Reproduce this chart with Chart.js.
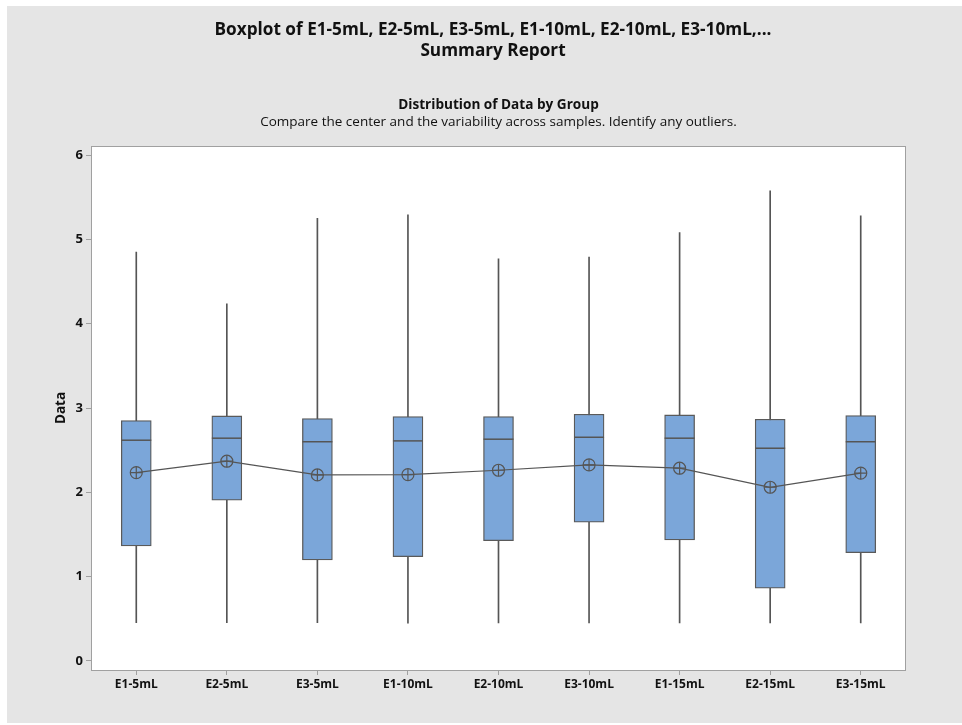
<!DOCTYPE html>
<html>
<head>
<meta charset="utf-8">
<script src="https://cdn.jsdelivr.net/npm/chart.js@4.4.0/dist/chart.umd.min.js"></script>
<style>
  html, body { margin: 0; padding: 0; background: #fff; }
</style>
</head>
<body>
<canvas id="boxChart" width="962" height="725"></canvas>
<script>
// Boxplot summary values per group
const groups = ['E1-5mL', 'E2-5mL', 'E3-5mL', 'E1-10mL', 'E2-10mL', 'E3-10mL', 'E1-15mL', 'E2-15mL', 'E3-15mL'];
const whiskerLow = [0.455, 0.455, 0.455, 0.447, 0.45, 0.45, 0.45, 0.45, 0.45];
const q1 = [1.364, 1.906, 1.198, 1.237, 1.427, 1.645, 1.435, 0.862, 1.285];
const median = [2.618, 2.642, 2.60, 2.61, 2.63, 2.653, 2.642, 2.523, 2.60];
const q3 = [2.85, 2.906, 2.874, 2.898, 2.898, 2.926, 2.918, 2.867, 2.91];
const whiskerHigh = [4.848, 4.235, 5.25, 5.29, 4.77, 4.79, 5.08, 5.575, 5.279];
const means = [2.234, 2.369, 2.206, 2.21, 2.262, 2.325, 2.286, 2.06, 2.227];
const yTicks = [0, 1, 2, 3, 4, 5, 6];

const FONT = "'Open Sans', 'Noto Sans', sans-serif";
const LINE = '#555555';
const FRAME = '#a0a0a0';

// Gray panel, white plot area, frame, median lines and heading texts
const reportPlugin = {
    id: 'report',
    beforeDraw(chart) {
        const { ctx, chartArea: a } = chart;
        ctx.save();
        ctx.fillStyle = '#e5e5e5';
        ctx.fillRect(7, 6, 955, 717);
        ctx.fillStyle = '#ffffff';
        ctx.fillRect(a.left, a.top, a.right - a.left, a.bottom - a.top);
        ctx.restore();
    },
    afterDatasetsDraw(chart) {
        const { ctx, scales } = chart;
        const meta = chart.getDatasetMeta(1);
        ctx.save();
        ctx.strokeStyle = LINE;
        ctx.lineWidth = 1.5;
        meta.data.forEach((bar, i) => {
            const y = scales.y.getPixelForValue(median[i]);
            const half = bar.width / 2;
            ctx.beginPath();
            ctx.moveTo(bar.x - half, y);
            ctx.lineTo(bar.x + half, y);
            ctx.stroke();
        });
        ctx.restore();
    },
    afterDraw(chart) {
        const { ctx, chartArea: a } = chart;
        ctx.save();
        ctx.strokeStyle = FRAME;
        ctx.lineWidth = 1;
        ctx.strokeRect(a.left + 0.5, a.top + 0.5, a.right - a.left - 1, a.bottom - a.top);

        ctx.fillStyle = '#111';
        ctx.textAlign = 'center';
        ctx.textBaseline = 'middle';
        ctx.font = 'bold 17.2px ' + FONT;
        ctx.fillText('Boxplot of E1-5mL, E2-5mL, E3-5mL, E1-10mL, E2-10mL, E3-10mL,...', 493, 30);
        ctx.fillText('Summary Report', 493, 51);

        const cx = (a.left + a.right) / 2;
        ctx.font = 'bold 13.6px ' + FONT;
        ctx.fillText('Distribution of Data by Group', cx, 105);
        ctx.font = '13.5px ' + FONT;
        ctx.fillText('Compare the center and the variability across samples. Identify any outliers.', cx, 122);

        ctx.font = 'bold 13.5px ' + FONT;
        ctx.translate(61, (a.top + a.bottom) / 2);
        ctx.rotate(-Math.PI / 2);
        ctx.fillText('Data', 0, 0);
        ctx.restore();
    }
};

function initBoxChart() {
    const ctx = document.getElementById('boxChart');

    new Chart(ctx, {
        type: 'bar',
        data: {
            labels: groups,
            datasets: [
                {
                    // whiskers
                    type: 'bar',
                    data: groups.map((g, i) => [whiskerLow[i], whiskerHigh[i]]),
                    backgroundColor: LINE,
                    borderWidth: 0,
                    barThickness: 1,
                    grouped: false,
                    order: 4
                },
                {
                    // interquartile boxes
                    type: 'bar',
                    data: groups.map((g, i) => [q1[i], q3[i]]),
                    backgroundColor: '#7ba6d9',
                    borderColor: '#5a5a5a',
                    borderWidth: 1.3,
                    borderSkipped: false,
                    barThickness: 30,
                    grouped: false,
                    order: 3
                },
                {
                    // mean connect line with circles
                    type: 'line',
                    data: means,
                    borderColor: LINE,
                    borderWidth: 1.2,
                    tension: 0,
                    pointStyle: 'circle',
                    pointRadius: 6,
                    pointBorderWidth: 1.2,
                    pointBackgroundColor: 'rgba(0,0,0,0)',
                    pointBorderColor: LINE,
                    order: 1
                },
                {
                    // cross inside the mean symbol
                    type: 'line',
                    data: means,
                    showLine: false,
                    pointStyle: 'cross',
                    pointRadius: 6,
                    pointBorderWidth: 1.2,
                    pointBorderColor: LINE,
                    order: 0
                }
            ]
        },
        options: {
            responsive: false,
            animation: false,
            layout: {
                padding: { top: 146, right: 56, left: 0, bottom: 0 }
            },
            scales: {
                x: {
                    type: 'category',
                    offset: true,
                    afterFit: s => { s.height = 55; },
                    grid: {
                        offset: false,
                        drawOnChartArea: false,
                        drawTicks: true,
                        tickLength: 5,
                        color: FRAME
                    },
                    border: { display: false },
                    ticks: {
                        color: '#111',
                        padding: 2,
                        maxRotation: 0,
                        font: { family: FONT, size: 12, weight: 'bold' }
                    }
                },
                y: {
                    min: -0.107,
                    max: 6.107,
                    afterFit: s => { s.width = 91; },
                    afterBuildTicks: s => { s.ticks = yTicks.map(v => ({ value: v })); },
                    grid: {
                        drawOnChartArea: false,
                        drawTicks: true,
                        tickLength: 5,
                        color: FRAME
                    },
                    border: { display: false },
                    ticks: {
                        color: '#111',
                        padding: 3,
                        font: { family: FONT, size: 13, weight: 'bold' }
                    }
                }
            },
            plugins: {
                legend: { display: false },
                tooltip: { enabled: false },
                title: { display: false }
            }
        },
        plugins: [reportPlugin]
    });
}

document.addEventListener('DOMContentLoaded', initBoxChart);
</script>
</body>
</html>
